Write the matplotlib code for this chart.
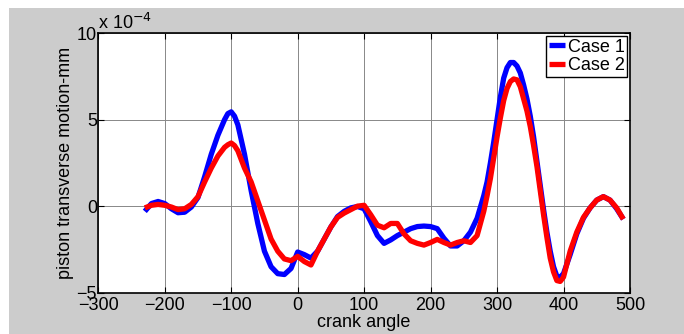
from matplotlib import pyplot as plt
from matplotlib.patches import Rectangle

# crank angle (deg), denser where the curves turn sharply
crank_angle = (list(range(-230, -110, 10)) + [-110, -105, -100, -95, -90]
               + list(range(-80, 280, 10)) + list(range(280, 401, 5))
               + list(range(410, 491, 10)))

# transverse motion in units of 1e-4 mm
case_1 = [-0.3, 0.15, 0.27, 0.15, -0.15, -0.38, -0.35, -0.05, 0.5, 1.7, 3.0, 4.1,
          5.0, 5.35, 5.45, 5.2, 4.7,
          3.0, 0.9, -1.0, -2.6, -3.5, -3.9, -3.95, -3.6, -2.65,
          -2.8, -3.0, -2.6, -1.9, -1.2, -0.6, -0.3, -0.1, -0.02,
          -0.15, -0.9, -1.7, -2.15, -1.95, -1.7, -1.5, -1.3, -1.18, -1.15,
          -1.18, -1.3, -1.85, -2.3, -2.3, -2.0, -1.5, -0.7,
          0.6, 1.4, 2.5, 3.7, 5.0, 6.3, 7.4, 8.0, 8.3, 8.3, 8.1, 7.7, 7.0,
          6.2, 5.2, 4.0, 2.6, 1.2, -0.2, -1.5, -2.6, -3.5, -4.05, -4.1, -3.9,
          -2.8, -1.6, -0.7, -0.1, 0.35, 0.55, 0.35, -0.15, -0.75]

case_2 = [-0.1, 0.05, 0.1, 0.05, -0.05, -0.2, -0.15, 0.1, 0.55, 1.4, 2.2, 2.9,
          3.4, 3.55, 3.65, 3.5, 3.2,
          2.2, 1.4, 0.3, -0.8, -1.9, -2.6, -3.05, -3.15, -2.9,
          -3.2, -3.4, -2.6, -1.9, -1.2, -0.65, -0.4, -0.2, 0.0,
          0.05, -0.5, -1.1, -1.25, -1.0, -1.0, -1.6, -2.0, -2.15, -2.25,
          -2.1, -1.92, -2.1, -2.25, -2.1, -2.0, -2.1, -1.7,
          -0.3, 0.6, 1.6, 2.8, 4.0, 5.1, 6.1, 6.8, 7.2, 7.35, 7.3, 6.9, 6.2,
          5.5, 4.6, 3.5, 2.3, 0.9, -0.5, -1.8, -3.0, -3.8, -4.3, -4.35, -4.1,
          -2.6, -1.5, -0.65, -0.1, 0.35, 0.55, 0.35, -0.1, -0.75]

x_ticks = [-300, -200, -100, 0, 100, 200, 300, 400, 500]
y_ticks = [-5, 0, 5, 10]

plt.rcParams['font.family'] = ['Liberation Sans', 'DejaVu Sans']
plt.rcParams['font.size'] = 13

figure = plt.figure(figsize=(6.84, 3.34), dpi=100, facecolor='white')
# matlab-like grey figure area, thin white strip on top and left
figure.patches.append(Rectangle((9 / 684, 0), 1, (334 - 8) / 334,
                                transform=figure.transFigure,
                                facecolor='#cccccc', edgecolor='none', zorder=-1))

axis = figure.add_axes([0.1437, 0.1237, 0.7773, 0.7772])
line_style = dict(linewidth=3.8, solid_joinstyle='round', solid_capstyle='butt')
axis.plot(crank_angle, case_1, color='#0000ff', label='Case 1', **line_style)
axis.plot(crank_angle, case_2, color='#ff0000', label='Case 2', **line_style)

axis.set_xlim(-300, 500)
axis.set_ylim(-5, 10)
axis.set_xticks(x_ticks)
axis.set_yticks(y_ticks)
axis.grid(True, color='#888888', linewidth=0.7)
axis.set_axisbelow(True)
axis.tick_params(direction='in', top=True, right=True, length=4,
                 width=0.8, labelsize=13)
axis.tick_params(axis='x', pad=3)
axis.tick_params(axis='y', pad=1)
for spine in axis.spines.values():
    spine.set_linewidth(1.2)

axis.set_xlabel('crank angle', labelpad=0)
axis.set_ylabel('piston transverse motion-mm', labelpad=2)
axis.text(0.0, 1.0, r'x 10$^{-4}$', transform=axis.transAxes,
          ha='left', va='bottom')

legend = axis.legend(loc='upper right', fancybox=False, framealpha=1,
                     edgecolor='black', handlelength=0.9, handletextpad=0.15,
                     borderpad=0.15, labelspacing=0.1, borderaxespad=0.15)
legend.get_frame().set_linewidth(1.0)

figure.savefig('out.png', dpi=100, facecolor=figure.get_facecolor())
